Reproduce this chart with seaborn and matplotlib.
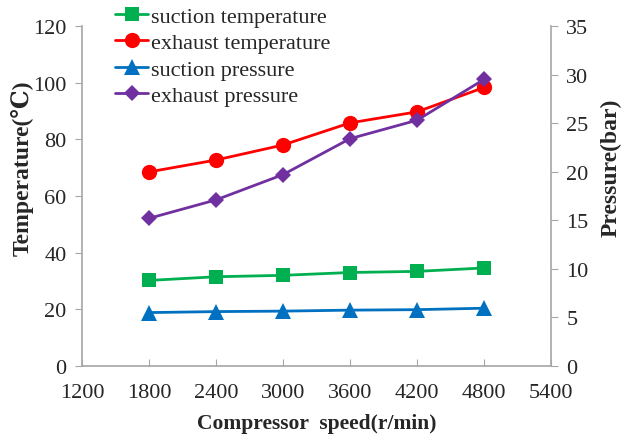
import matplotlib
matplotlib.use("Agg")
import matplotlib.pyplot as plt
import seaborn as sns
import numpy as np

speed = [1800, 2400, 3000, 3600, 4200, 4800]
suction_temp = [30.2, 31.5, 32.0, 33.0, 33.4, 34.6]
exhaust_temp = [68.5, 72.7, 78.0, 85.8, 89.7, 98.3]
suction_pres = [5.5, 5.6, 5.65, 5.75, 5.8, 5.95]
exhaust_pres = [15.2, 17.1, 19.7, 23.4, 25.3, 29.5]

sns.set_style("ticks")
plt.rcParams['font.family'] = ['Liberation Serif', 'DejaVu Serif']

fig = plt.figure(figsize=(6.23, 4.39), dpi=100)
ax = fig.add_axes([0.1316, 0.164, 0.7528, 0.7745])
ax2 = ax.twinx()

sns.lineplot(x=speed, y=suction_temp, ax=ax, color='#00B050', marker='s', markersize=10,
             markeredgewidth=0, linewidth=2, label='suction temperature', legend=False)
sns.lineplot(x=speed, y=exhaust_temp, ax=ax, color='#FF0000', marker='o', markersize=11,
             markeredgewidth=0, linewidth=2, label='exhaust temperature', legend=False)
sns.lineplot(x=speed, y=suction_pres, ax=ax2, color='#0070C0', marker='^', markersize=11,
             markeredgewidth=0, linewidth=2, label='suction pressure', legend=False)
sns.lineplot(x=speed, y=exhaust_pres, ax=ax2, color='#7030A0', marker='D', markersize=8,
             markeredgewidth=0, linewidth=2, label='exhaust pressure', legend=False)

ax.set_xlim(1200, 5400)
ax.set_ylim(0, 120)
ax2.set_ylim(0, 35)
ax.set_xticks(np.arange(1200, 5401, 600))
ax.set_yticks(np.arange(0, 121, 20))
ax2.set_yticks(np.arange(0, 36, 5))

grey = '#A6A6A6'
for a in (ax, ax2):
    a.spines['top'].set_visible(False)
    for s in ('left', 'right', 'bottom'):
        a.spines[s].set_color(grey)
        a.spines[s].set_linewidth(1.2)
ax.spines['right'].set_visible(False)
ax2.spines['left'].set_visible(False)
ax2.spines['bottom'].set_visible(False)

ax.tick_params(axis='x', direction='in', length=5, color=grey, labelsize=16, pad=12)
ax.tick_params(axis='y', direction='out', length=5, color=grey, labelsize=16, pad=6)
ax2.tick_params(axis='y', direction='out', length=5, color=grey, labelsize=16, pad=6)

ax.set_xlabel('Compressor  speed(r/min)', fontsize=15.5, fontweight='bold', labelpad=8)
ax.set_ylabel('Temperature(\u2103)', fontsize=17, fontweight='bold')
ax2.set_ylabel('Pressure(bar)', fontsize=17, fontweight='bold')
ax.yaxis.set_label_coords(-0.104, 0.585)
ax2.yaxis.set_label_coords(1.106, 0.585)

h1, l1 = ax.get_legend_handles_labels()
h2, l2 = ax2.get_legend_handles_labels()
fig.legend(h1 + h2, l1 + l2, loc='upper left', bbox_to_anchor=(115 / 623, 1 - 7 / 439),
           frameon=False, fontsize=16, handlelength=1.5, handletextpad=0.1,
           labelspacing=0.27, borderpad=0, borderaxespad=0)

fig.savefig('out.png', dpi=100)
